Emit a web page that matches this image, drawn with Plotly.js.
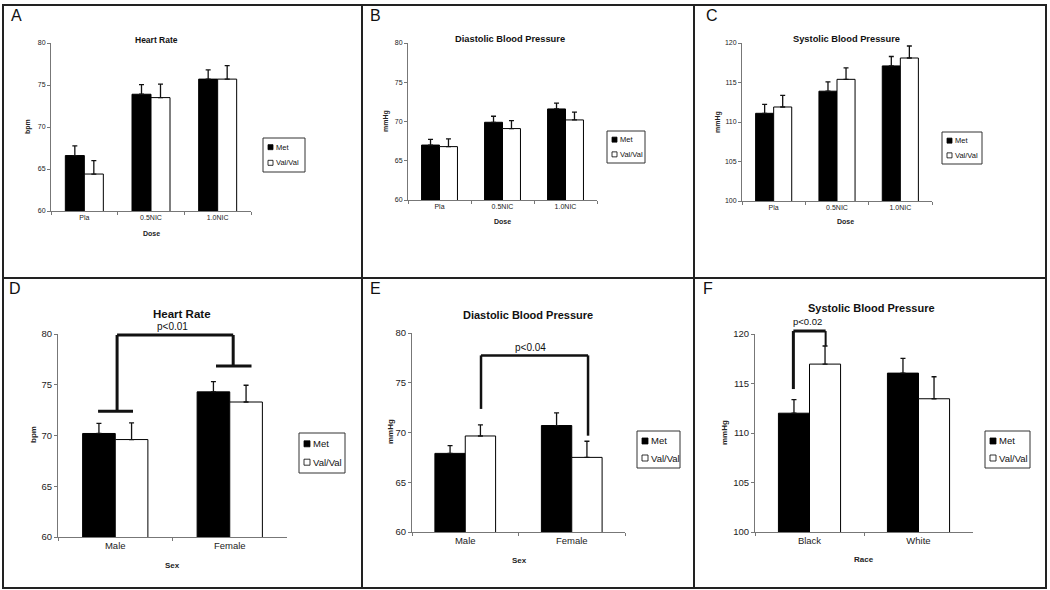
<!DOCTYPE html>
<html><head><meta charset="utf-8">
<script src="https://cdn.plot.ly/plotly-3.0.1.min.js"></script>
<style>html,body{margin:0;padding:0;background:#fff;}#chart{width:1050px;height:590px;}</style>
</head><body><div id="chart"></div>
<script>
// ---------------- data ----------------
const doseCategories = ['Pla', '0.5NIC', '1.0NIC'];
const sexCategories = ['Male', 'Female'];
const raceCategories = ['Black', 'White'];
const seriesNames = ['Met', 'Val/Val'];
const panelLetters = ['A', 'B', 'C', 'D', 'E', 'F'];
const panelTitles = ['Heart Rate', 'Diastolic Blood Pressure', 'Systolic Blood Pressure',
                     'Heart Rate', 'Diastolic Blood Pressure', 'Systolic Blood Pressure'];
const yTitles = ['bpm', 'mmHg', 'mmHg', 'bpm', 'mmHg', 'mmHg'];
const xTitles = ['Dose', 'Dose', 'Dose', 'Sex', 'Sex', 'Race'];
const ticksLow = [60, 65, 70, 75, 80];
const ticksHigh = [100, 105, 110, 115, 120];
const pLabels = ['p<0.01', 'p<0.04', 'p<0.02'];

const hrDoseMet = [66.6, 73.9, 75.7];
const hrDoseMetErr = [1.15, 1.15, 1.1];
const hrDoseVal = [64.4, 73.5, 75.7];
const hrDoseValErr = [1.6, 1.6, 1.6];

const dbpDoseMet = [67.0, 69.9, 71.6];
const dbpDoseMetErr = [0.72, 0.77, 0.73];
const dbpDoseVal = [66.8, 69.1, 70.2];
const dbpDoseValErr = [0.98, 1.0, 1.0];

const sbpDoseMet = [111.1, 113.9, 117.1];
const sbpDoseMetErr = [1.14, 1.18, 1.19];
const sbpDoseVal = [111.9, 115.4, 118.1];
const sbpDoseValErr = [1.48, 1.44, 1.52];

const hrSexMet = [70.2, 74.3];
const hrSexMetErr = [1.0, 1.0];
const hrSexVal = [69.6, 73.3];
const hrSexValErr = [1.64, 1.65];

const dbpSexMet = [67.9, 70.7];
const dbpSexMetErr = [0.78, 1.28];
const dbpSexVal = [69.65, 67.5];
const dbpSexValErr = [1.11, 1.62];

const sbpRaceMet = [112.0, 116.05];
const sbpRaceMetErr = [1.38, 1.49];
const sbpRaceVal = [116.96, 113.46];
const sbpRaceValErr = [1.83, 2.22];

// ---------------- layout geometry (pixels) ----------------
const W = 1050, H = 590;
const px = x => x / W;
const py = y => 1 - y / H;
const FONT = 'Liberation Sans, Arial, sans-serif';

const panels = [
  {cats: doseCategories, met: hrDoseMet, metErr: hrDoseMetErr, val: hrDoseVal, valErr: hrDoseValErr, ticks: ticksLow,
   box: [51, 251, 43, 211], tickSize: 7, titleSize: 8.5, axSize: 7, title: [156, 40], xt: [151, 234], yt: [28, 127],
   letter: [16, 15], leg: [263, 138, 42, 34], legFont: 7.5, sw: 5},
  {cats: doseCategories, met: dbpDoseMet, metErr: dbpDoseMetErr, val: dbpDoseVal, valErr: dbpDoseValErr, ticks: ticksLow,
   box: [408, 597, 43, 200], tickSize: 7, titleSize: 9.3, axSize: 7, title: [510, 39], xt: [502, 221], yt: [386, 121],
   letter: [375, 15], leg: [607, 131, 38, 32], legFont: 7.5, sw: 5},
  {cats: doseCategories, met: sbpDoseMet, metErr: sbpDoseMetErr, val: sbpDoseVal, valErr: sbpDoseValErr, ticks: ticksHigh,
   box: [742, 932, 43, 201], tickSize: 7, titleSize: 9.3, axSize: 7, title: [846, 39], xt: [845, 221], yt: [718, 122],
   letter: [712, 15], leg: [942, 132, 40, 32], legFont: 7.5, sw: 5},
  {cats: sexCategories, met: hrSexMet, metErr: hrSexMetErr, val: hrSexVal, valErr: hrSexValErr, ticks: ticksLow,
   box: [58, 287, 334, 537], tickSize: 9.5, titleSize: 11.5, axSize: 8, title: [182, 314], xt: [172, 565], yt: [33, 435],
   letter: [15, 288], leg: [299, 433, 46, 40], legFont: 9.5, sw: 6},
  {cats: sexCategories, met: dbpSexMet, metErr: dbpSexMetErr, val: dbpSexVal, valErr: dbpSexValErr, ticks: ticksLow,
   box: [412, 625, 333, 532], tickSize: 9.5, titleSize: 11, axSize: 8, title: [528, 315], xt: [519, 560], yt: [390, 432],
   letter: [375, 288], leg: [637, 431, 43, 37], legFont: 9.5, sw: 6},
  {cats: raceCategories, met: sbpRaceMet, metErr: sbpRaceMetErr, val: sbpRaceVal, valErr: sbpRaceValErr, ticks: ticksHigh,
   box: [755, 973, 334, 532], tickSize: 9.5, titleSize: 11, axSize: 8, title: [871, 308], xt: [864, 559], yt: [724, 433],
   letter: [708, 288], leg: [985, 431, 45, 37], legFont: 9.5, sw: 6}
];

const data = [];
const layout = {
  width: W, height: H,
  margin: {l: 0, r: 0, t: 0, b: 0},
  paper_bgcolor: '#ffffff', plot_bgcolor: 'rgba(0,0,0,0)',
  showlegend: false,
  barmode: 'group', bargap: 0.43, bargroupgap: 0,
  font: {family: FONT, color: '#111'},
  shapes: [], annotations: []
};

const errStyle = (arr) => ({type: 'data', symmetric: false, array: arr, arrayminus: arr.map(() => 0),
                            color: '#111', thickness: 1.3, width: 2.5});

panels.forEach((p, i) => {
  const k = i === 0 ? '' : String(i + 1);
  const xa = 'x' + k, ya = 'y' + k;
  const n = p.cats.length;
  const range = [p.ticks[0], p.ticks[p.ticks.length - 1]];
  p.range = range; p.xa = xa; p.ya = ya; p.n = n;

  data.push({type: 'bar', name: seriesNames[0], x: p.cats, y: p.met, xaxis: xa, yaxis: ya,
             marker: {color: '#000', line: {color: '#000', width: 1}}, error_y: errStyle(p.metErr),
             hoverinfo: 'skip'});
  data.push({type: 'bar', name: seriesNames[1], x: p.cats, y: p.val, xaxis: xa, yaxis: ya,
             marker: {color: '#fff', line: {color: '#000', width: 1}}, error_y: errStyle(p.valErr),
             hoverinfo: 'skip'});

  layout['xaxis' + k] = {
    domain: [px(p.box[0]), px(p.box[1])], anchor: ya, type: 'category', range: [-0.5, n - 0.5],
    showline: true, linecolor: '#777', linewidth: 1, ticks: 'outside', tickson: 'boundaries',
    ticklen: 3, tickcolor: '#777', tickfont: {size: p.tickSize, color: '#222', family: FONT},
    showgrid: false, zeroline: false, fixedrange: true
  };
  layout['yaxis' + k] = {
    domain: [py(p.box[3]), py(p.box[2])], anchor: xa, range: range, tickvals: p.ticks,
    showline: true, linecolor: '#777', linewidth: 1, ticks: 'outside', ticklen: 3, tickcolor: '#777',
    tickfont: {size: p.tickSize, color: '#222', family: FONT},
    showgrid: false, zeroline: false, fixedrange: true
  };

  const A = layout.annotations;
  A.push({xref: 'paper', yref: 'paper', x: px(p.letter[0]), y: py(p.letter[1]), text: panelLetters[i],
          showarrow: false, xanchor: 'center', yanchor: 'middle', font: {size: 16, color: '#111', family: FONT}});
  A.push({xref: 'paper', yref: 'paper', x: px(p.title[0]), y: py(p.title[1]), text: '<b>' + panelTitles[i] + '</b>',
          showarrow: false, xanchor: 'center', yanchor: 'middle', font: {size: p.titleSize, color: '#111', family: FONT}});
  A.push({xref: 'paper', yref: 'paper', x: px(p.xt[0]), y: py(p.xt[1]), text: '<b>' + xTitles[i] + '</b>',
          showarrow: false, xanchor: 'center', yanchor: 'middle', font: {size: p.axSize, color: '#222', family: FONT}});
  A.push({xref: 'paper', yref: 'paper', x: px(p.yt[0]), y: py(p.yt[1]), text: '<b>' + yTitles[i] + '</b>',
          textangle: -90, showarrow: false, xanchor: 'center', yanchor: 'middle',
          font: {size: p.axSize, color: '#222', family: FONT}});

  // legend box
  const [L, T, LW, LH] = p.leg;
  const S = layout.shapes;
  S.push({type: 'rect', xref: 'paper', yref: 'paper', x0: px(L), x1: px(L + LW), y0: py(T), y1: py(T + LH),
          line: {color: '#333', width: 1}, fillcolor: 'rgba(0,0,0,0)'});
  const rows = [T + LH * 0.27, T + LH * 0.73];
  rows.forEach((ry, j) => {
    S.push({type: 'rect', xref: 'paper', yref: 'paper', x0: px(L + 5), x1: px(L + 5 + p.sw),
            y0: py(ry - p.sw / 2), y1: py(ry + p.sw / 2),
            line: {color: '#000', width: 0.8}, fillcolor: j === 0 ? '#000' : '#fff'});
    A.push({xref: 'paper', yref: 'paper', x: px(L + 6 + p.sw), y: py(ry), text: seriesNames[j],
            showarrow: false, xanchor: 'left', yanchor: 'middle',
            font: {size: p.legFont, color: '#111', family: FONT}});
  });
});

// category index / value -> axis-domain fractions
const dX = (p, v) => (v + 0.5) / p.n;
const dY = (p, v) => (v - p.range[0]) / (p.range[1] - p.range[0]);

// significance brackets
function seg(p, xa0, ya0, xa1, ya1, w) {
  layout.shapes.push({type: 'line', xref: p.xa + ' domain', yref: p.ya + ' domain',
    x0: dX(p, xa0), y0: dY(p, ya0), x1: dX(p, xa1), y1: dY(p, ya1), line: {color: '#111', width: w}});
}
const pD = panels[3], pE = panels[4], pF = panels[5];
seg(pD, 0.016, 72.4, 0.016, 79.9, 3);
seg(pD, 0.016, 79.9, 1.03, 79.9, 3);
seg(pD, 1.03, 79.9, 1.03, 76.85, 3);
seg(pD, -0.15, 72.4, 0.155, 72.4, 3);
seg(pD, 0.88, 76.85, 1.19, 76.85, 3);

seg(pE, 0.148, 72.37, 0.148, 77.75, 2.5);
seg(pE, 0.148, 77.75, 1.153, 77.75, 2.5);
seg(pE, 1.153, 77.75, 1.153, 69.68, 2.5);

seg(pF, -0.148, 114.44, -0.148, 120.3, 3);
seg(pF, -0.148, 120.3, 0.148, 120.3, 3);
seg(pF, 0.148, 120.3, 0.148, 118.8, 2);

// p-value labels
[[pD, 0.5, 80.75, 10], [pE, 0.617, 78.5, 10], [pF, -0.014, 121.25, 9.5]].forEach((q, j) => {
  const p = q[0];
  layout.annotations.push({xref: p.xa + ' domain', yref: p.ya + ' domain', x: dX(p, q[1]), y: dY(p, q[2]),
    text: pLabels[j], showarrow: false, xanchor: 'center', yanchor: 'middle',
    font: {size: q[3], color: '#111', family: FONT}});
});

// panel frame
const frame = {color: '#222', width: 2};
layout.shapes.push({type: 'rect', xref: 'paper', yref: 'paper', x0: px(3), x1: px(1046), y0: py(5), y1: py(588), line: frame});
layout.shapes.push({type: 'line', xref: 'paper', yref: 'paper', x0: px(362), x1: px(362), y0: py(5), y1: py(588), line: frame});
layout.shapes.push({type: 'line', xref: 'paper', yref: 'paper', x0: px(694), x1: px(694), y0: py(5), y1: py(588), line: frame});
layout.shapes.push({type: 'line', xref: 'paper', yref: 'paper', x0: px(3), x1: px(1046), y0: py(278), y1: py(278), line: frame});

Plotly.newPlot('chart', data, layout, {staticPlot: true, displayModeBar: false});
</script>
</body></html>
